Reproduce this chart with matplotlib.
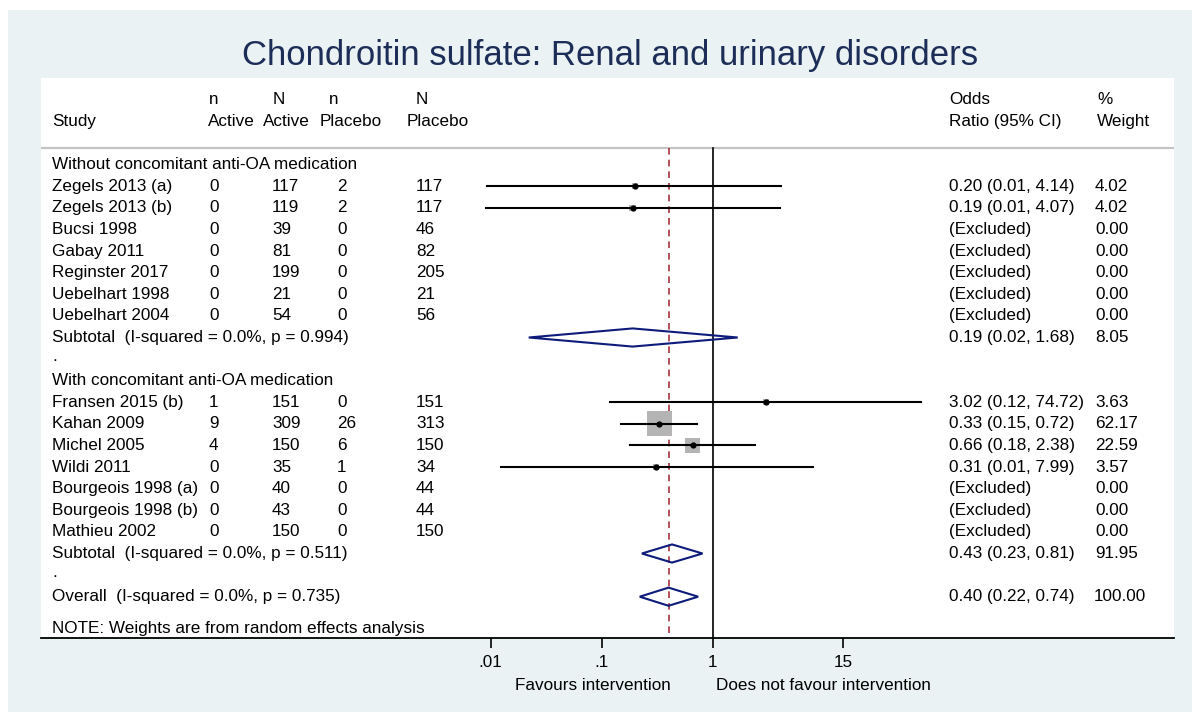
import numpy as np
import matplotlib
matplotlib.use("Agg")
import matplotlib.pyplot as plt
import matplotlib.transforms as mtransforms
from matplotlib.patches import Rectangle, Polygon

plt.rcParams['font.family'] = ['Liberation Sans', 'DejaVu Sans']

title = "Chondroitin sulfate: Renal and urinary disorders"

# group 1: without concomitant anti-OA medication
studies1 = ["Zegels 2013 (a)", "Zegels 2013 (b)", "Bucsi 1998", "Gabay 2011",
            "Reginster 2017", "Uebelhart 1998", "Uebelhart 2004"]
n_act1 = [0, 0, 0, 0, 0, 0, 0]
N_act1 = [117, 119, 39, 81, 199, 21, 54]
n_pla1 = [2, 2, 0, 0, 0, 0, 0]
N_pla1 = [117, 117, 46, 82, 205, 21, 56]
or1 = [0.20, 0.19, None, None, None, None, None]
lo1 = [0.0092, 0.0091, None, None, None, None, None]
hi1 = [4.14, 4.07, None, None, None, None, None]
w1 = [4.02, 4.02, 0, 0, 0, 0, 0]
sub1 = (0.19, 0.022, 1.68, 8.05)
sub1_label = "Subtotal  (I-squared = 0.0%, p = 0.994)"

# group 2: with concomitant anti-OA medication
studies2 = ["Fransen 2015 (b)", "Kahan 2009", "Michel 2005", "Wildi 2011",
            "Bourgeois 1998 (a)", "Bourgeois 1998 (b)", "Mathieu 2002"]
n_act2 = [1, 9, 4, 0, 0, 0, 0]
N_act2 = [151, 309, 150, 35, 40, 43, 150]
n_pla2 = [0, 26, 6, 1, 0, 0, 0]
N_pla2 = [151, 313, 150, 34, 44, 44, 150]
or2 = [3.02, 0.33, 0.66, 0.31, None, None, None]
lo2 = [0.12, 0.15, 0.18, 0.0123, None, None, None]
hi2 = [74.72, 0.72, 2.38, 7.99, None, None, None]
w2 = [3.63, 62.17, 22.59, 3.57, 0, 0, 0]
sub2 = (0.43, 0.23, 0.81, 91.95)
sub2_label = "Subtotal  (I-squared = 0.0%, p = 0.511)"

overall = (0.40, 0.22, 0.74, 100.00)
overall_label = "Overall  (I-squared = 0.0%, p = 0.735)"

xticks = [0.01, 0.1, 1, 15]
xticklabels = [".01", ".1", "1", "15"]

W, H = 1194, 720
FS = 12.3
fig = plt.figure(figsize=(W / 100, H / 100), dpi=100, facecolor='white')
fig.patches.append(Rectangle((8 / W, 1 - 712 / H), (1192 - 8) / W, (712 - 10) / H,
                             transform=fig.transFigure, facecolor='#eaf2f3',
                             edgecolor='none', zorder=-10))

ax = fig.add_axes([41 / W, 1 - 638 / H, (1174 - 41) / W, (638 - 78) / H])
ax.set_facecolor('white')
ax.set_xscale('log')
# 1 at x=712.7 px, 111 px per decade
ax.set_xlim(10 ** ((41 - 712.7) / 111), 10 ** ((1174 - 712.7) / 111))
r0, dr = 164.7, 21.6
ax.set_ylim((638 - r0) / dr, (78 - r0) / dr)
for s in ['top', 'left', 'right']:
    ax.spines[s].set_visible(False)
ax.spines['bottom'].set_linewidth(1.3)
ax.set_yticks([])
ax.set_xticks(xticks)
ax.set_xticklabels(xticklabels)
ax.xaxis.set_minor_locator(matplotlib.ticker.NullLocator())
ax.tick_params(axis='x', direction='out', length=7, width=1.2, labelsize=FS, pad=5)

tr = mtransforms.blended_transform_factory(fig.transFigure, ax.transData)


def put(xpx, row, s, **kw):
    ax.text(xpx / W, row, s, transform=tr, va='center', ha='left',
            fontsize=FS, color='black', clip_on=False, **kw)


col_x = [209, 272, 337, 416]
or_x, w_x = 949, 1095

# header
put(52, -2, "Study")
for x1, x2, a, b in zip([209, 273, 329, 416], [208, 263, 320, 407],
                        ["n", "N", "n", "N"], ["Active", "Active", "Placebo", "Placebo"]):
    put(x1, -3, a)
    put(x2, -2, b)
put(949, -3, "Odds")
put(949, -2, "Ratio (95% CI)")
put(1097, -3, "%")
put(1097, -2, "Weight")
ax.axhline(-0.75, color='#c4c4c4', lw=1.6, zorder=1)

navy = '#0d1b7a'
maroon = '#a8323e'


def diamond(row, est, lo, hi, h=0.42):
    ax.add_patch(Polygon([(lo, row), (est, row - h), (hi, row), (est, row + h)],
                         closed=True, facecolor='none', edgecolor=navy, lw=1.5, zorder=4))


def ci_text(est, lo, hi):
    return f"{est:.2f} ({lo:.2f}, {hi:.2f})"


def group(start, header, studies, na, Na, npl, Npl, ors, los, his, ws, sub, sub_label):
    put(52, start, header)
    for i, name in enumerate(studies):
        r = start + 1 + i
        put(52, r, name)
        for x, v in zip(col_x, [na[i], Na[i], npl[i], Npl[i]]):
            put(x, r, str(v))
        if ors[i] is None:
            put(or_x, r, "(Excluded)")
        else:
            side = 25 * np.sqrt(ws[i] / 62.17) * 0.72
            ax.scatter([ors[i]], [r], marker='s', s=side ** 2, color='#b4b4b4',
                       edgecolors='none', zorder=2)
            ax.plot([los[i], his[i]], [r, r], color='black', lw=1.5, zorder=3)
            ax.scatter([ors[i]], [r], marker='o', s=12, color='black', zorder=5)
            put(or_x, r, ci_text(ors[i], los[i], his[i]))
        put(w_x, r, f"{ws[i]:.2f}")
    rs = start + 1 + len(studies)
    put(52, rs, sub_label)
    diamond(rs, sub[0], sub[1], sub[2])
    put(or_x, rs, ci_text(sub[0], sub[1], sub[2]))
    put(w_x, rs, f"{sub[3]:.2f}")
    put(52, rs + 0.9, ".")
    return rs + 2


nxt = group(0, "Without concomitant anti-OA medication", studies1, n_act1, N_act1,
            n_pla1, N_pla1, or1, lo1, hi1, w1, sub1, sub1_label)
nxt = group(nxt, "With concomitant anti-OA medication", studies2, n_act2, N_act2,
            n_pla2, N_pla2, or2, lo2, hi2, w2, sub2, sub2_label)
put(52, nxt, overall_label)
diamond(nxt, overall[0], overall[1], overall[2])
put(or_x, nxt, ci_text(overall[0], overall[1], overall[2]))
put(w_x - 1, nxt, f"{overall[3]:.2f}")
put(52, nxt + 1.46, "NOTE: Weights are from random effects analysis")

ybot = ax.get_ylim()[0]
ax.plot([1, 1], [-0.75, ybot], color='black', lw=1.2, zorder=1)
ax.plot([overall[0], overall[0]], [-0.75, ybot], color=maroon, lw=1.2,
        dashes=(4, 3), zorder=1)

fig.text(671 / W, 1 - 685 / H, "Favours intervention", ha='right', va='center', fontsize=FS)
fig.text(716 / W, 1 - 685 / H, "Does not favour intervention", ha='left', va='center', fontsize=FS)
fig.text(610 / W, 1 - 55 / H, title, ha='center', va='center', fontsize=25, color='#1c2d57')

fig.savefig("out.png", dpi=100, facecolor=fig.get_facecolor())
